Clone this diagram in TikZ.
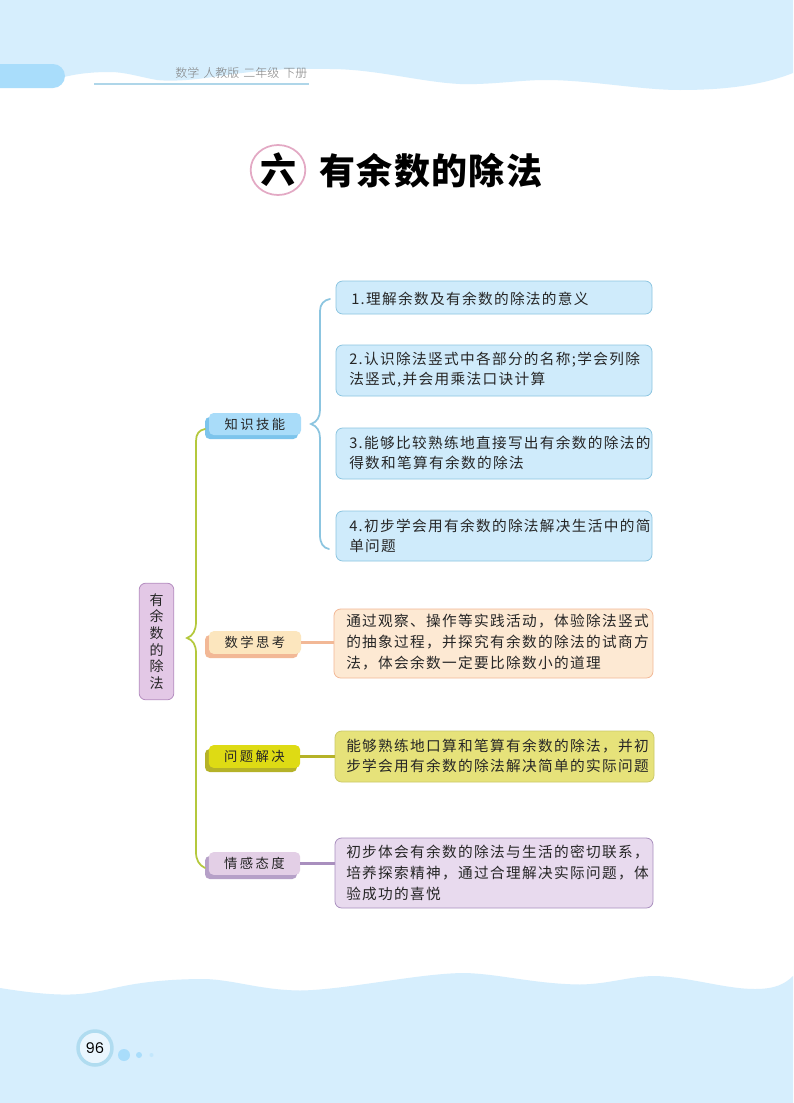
\documentclass[tikz,border=0pt]{standalone}
\usepackage{fontspec}
\usetikzlibrary{shapes.geometric}
\setmainfont{Poppins}
\newfontfamily\cjk[LetterSpace=9]{Noto Sans CJK SC}
\newfontfamily\cjklab[LetterSpace=18]{Noto Sans CJK SC}
\newfontfamily\cjktitle[LetterSpace=4]{Noto Sans CJK SC Black}
\newfontfamily\cjklight{Noto Sans CJK SC Light}
\newfontfamily\cjkplain{Noto Sans CJK SC}
\definecolor{wavec}{HTML}{D6EEFD}
\definecolor{tabc}{HTML}{A9DDFB}
\definecolor{bluefill}{HTML}{CFEBFB}
\definecolor{blueline}{HTML}{8CC5E0}
\definecolor{ringc}{HTML}{B0DCF0}
\definecolor{pinkc}{HTML}{E3A9C4}
\definecolor{labblue}{HTML}{A9DCF9}
\definecolor{labblueS}{HTML}{7CC4EC}
\definecolor{orfill}{HTML}{FDE9D3}
\definecolor{orline}{HTML}{F2B896}
\definecolor{labor}{HTML}{FCE6BE}
\definecolor{yefill}{HTML}{E6E27A}
\definecolor{yeline}{HTML}{B5B228}
\definecolor{labye}{HTML}{DEDB14}
\definecolor{pufill}{HTML}{E8DAEE}
\definecolor{puline}{HTML}{A98FBE}
\definecolor{labpu}{HTML}{E3CFE6}
\definecolor{rootfill}{HTML}{E3C8E6}
\definecolor{rootline}{HTML}{B58EC0}
\definecolor{greenline}{HTML}{B4C83C}
\tikzset{
  x=0.75pt,y=-0.75pt,
  textbox/.style={rounded corners=5pt,draw=#1,line width=0.6pt},
  bodytxt/.style={font=\cjk\fontsize{11pt}{15pt}\selectfont,align=left,anchor=west,text=black!85,inner sep=0pt},
  bodytxtw/.style={font=\cjk\fontsize{11pt}{15.75pt}\selectfont,align=left,anchor=west,text=black!85,inner sep=0pt},
  labtxt/.style={font=\cjklab\fontsize{10pt}{12pt}\selectfont,text=black!85,inner sep=0pt},
  labfront/.style={rounded corners=3.5pt,fill=#1,draw=none},
  link/.style={line width=2.1pt,draw=#1},
  brace/.style={line width=1.3pt,draw=#1,line cap=round},
}
\begin{document}
\begin{tikzpicture}
\useasboundingbox (0,0) rectangle (793,1103);
\fill[white] (0,0) rectangle (793,1103);
% top wave
\fill[wavec] (0,0) -- (793,0) -- (793,73) .. controls (765,84) and (730,90) .. (680,90)
  .. controls (640,90) and (590,80) .. (545,80)
  .. controls (520,80) and (490,85) .. (460,84)
  .. controls (420,82) and (375,69) .. (330,69)
  .. controls (290,68) and (260,70) .. (220,76)
  .. controls (200,79) and (175,82) .. (157,80)
  .. controls (140,77) and (125,72) .. (110,72)
  .. controls (90,72) and (75,74) .. (60,78) -- (0,78) -- cycle;
\fill[tabc,rounded corners=9pt] (-20,64) rectangle (65,88);
\coordinate (rulea) at (94,84);
\coordinate (ruleb) at (309,84);
\draw[line width=1.4pt,draw=blueline!70] (rulea) -- (ruleb);
\node[inner sep=0pt,anchor=west,text=black!50,font=\cjklight\fontsize{9pt}{10pt}\selectfont] (hdr) at (175,73) {数学\hspace{3pt}人教版\hspace{3pt}二年级\hspace{3pt}下册};
% title
\node[ellipse,draw=pinkc,line width=1.3pt,minimum width=41pt,minimum height=37.5pt,inner sep=0pt,font=\cjktitle\fontsize{27pt}{28pt}\selectfont] (six) at (278,170) {六};
\node[anchor=west,inner sep=0pt,font=\cjktitle\fontsize{27pt}{28pt}\selectfont] (title) at (319,171) {有余数的除法};
% root
\node[textbox=rootline,fill=rootfill,minimum width=26pt,minimum height=87.5pt,inner sep=0pt,align=center,font=\cjkplain\fontsize{10.5pt}{12.5pt}\selectfont,text=black!85] (root) at (156.5,641.5) {有\\余\\数\\的\\除\\法};
% labels
\fill[labblueS,rounded corners=3.5pt] (205,417) rectangle (298,439);
\node[labfront=labblue,minimum width=69pt,minimum height=16.5pt,inner sep=0pt] (l1) at (255,424) {};
\node[labtxt] at (l1) {知识技能};
\fill[orline,rounded corners=3.5pt] (205,635) rectangle (298,658);
\node[labfront=labor,minimum width=69pt,minimum height=17pt,inner sep=0pt] (l2) at (255,642.5) {};
\node[labtxt] at (l2) {数学思考};
\fill[yeline,rounded corners=3.5pt] (205,749) rectangle (297,772);
\node[labfront=labye,minimum width=68.5pt,minimum height=17pt,inner sep=0pt] (l3) at (254.5,756.5) {};
\node[labtxt] at (l3) {问题解决};
\fill[puline!85,rounded corners=3.5pt] (205,856) rectangle (297,879);
\node[labfront=labpu,minimum width=68.5pt,minimum height=17pt,inner sep=0pt] (l4) at (254.5,863.5) {};
\node[labtxt] at (l4) {情感态度};
% boxes
\node[textbox=blueline,fill=bluefill,minimum width=237pt,minimum height=24.75pt,inner sep=0pt] (b1) at (494,297.5) {};
\node[bodytxt] at (351,299) {1.理解余数及有余数的除法的意义};
\node[textbox=blueline,fill=bluefill,minimum width=237pt,minimum height=38.25pt,inner sep=0pt] (b2) at (494,370.5) {};
\node[bodytxt] at (349,370) {2.认识除法竖式中各部分的名称;学会列除\\法竖式,并会用乘法口诀计算};
\node[textbox=blueline,fill=bluefill,minimum width=237pt,minimum height=38.25pt,inner sep=0pt] (b3) at (494,453.5) {};
\node[bodytxt] at (349,453) {3.能够比较熟练地直接写出有余数的除法的\\得数和笔算有余数的除法};
\node[textbox=blueline,fill=bluefill,minimum width=237pt,minimum height=37.5pt,inner sep=0pt] (b4) at (494,536) {};
\node[bodytxt] at (349,536) {4.初步学会用有余数的除法解决生活中的简\\单问题};
\node[textbox=orline,fill=orfill,minimum width=239.25pt,minimum height=51.75pt,inner sep=0pt] (b5) at (493.5,643.5) {};
\node[bodytxtw] at (346,642) {通过观察、操作等实践活动，体验除法竖式\\的抽象过程，并探究有余数的除法的试商方\\法，体会余数一定要比除数小的道理};
\node[textbox=yeline!70,fill=yefill,minimum width=239.25pt,minimum height=38.25pt,inner sep=0pt] (b6) at (494.5,756.5) {};
\node[bodytxt] at (346,756) {能够熟练地口算和笔算有余数的除法，并初\\步学会用有余数的除法解决简单的实际问题};
\node[textbox=puline,fill=pufill,minimum width=238.5pt,minimum height=52.5pt,inner sep=0pt] (b7) at (494,873) {};
\node[bodytxtw] at (346,873) {初步体会有余数的除法与生活的密切联系，\\培养探索精神，通过合理解决实际问题，体\\验成功的喜悦};
% connectors
\draw[link=orline] (l2.east) -- (b5.west |- l2.east);
\draw[link=yeline] (l3.east) -- (b6.west |- l3.east);
\draw[link=puline] (l4.east) -- (b7.west |- l4.east);
% brace coordinates
\coordinate (gt) at (205,429);
\coordinate (gb) at (205,868);
\coordinate (gm) at (187,638);
\coordinate (bt) at (330,299);
\coordinate (bb) at (329,549);
\coordinate (bm) at (311,424);
\draw[brace=greenline] (gt) .. controls (199,430) and (196,434) .. (196,441) -- (196,622)
  .. controls (196,630) and (193,636) .. (gm) .. controls (193,640) and (196,645) .. (196,653)
  -- (196,852) .. controls (196,860) and (199,865) .. (gb);
\draw[brace=blueline] (bt) .. controls (324,300) and (320,304) .. (320,311) -- (320,410)
  .. controls (320,417) and (317,422) .. (bm) .. controls (317,426) and (320,431) .. (320,438)
  -- (320,535) .. controls (320,543) and (323,548) .. (bb);
% bottom wave
\fill[wavec] (0,988) .. controls (25,992) and (50,995) .. (70,994.500)
  .. controls (95,994) and (110,988) .. (135,984)
  .. controls (160,980) and (185,979) .. (205,979)
  .. controls (235,980) and (260,990) .. (300,990.500)
  .. controls (345,990) and (420,973) .. (465,973)
  .. controls (500,974) and (535,984) .. (580,984.500)
  .. controls (610,984) and (630,976) .. (655,976)
  .. controls (690,977) and (725,989) .. (755,989)
  .. controls (775,989) and (785,984) .. (793,976)
  -- (793,1103) -- (0,1103) -- cycle;
% page number
\node[circle,draw=ringc,line width=2.6pt,fill=wavec!50,minimum size=25.500pt,inner sep=0pt,font=\fontsize{11pt}{12pt}\selectfont] (pg) at (95,1048) {96};
\fill[tabc] (124,1055) circle[radius=6];
\fill[tabc] (139,1055) circle[radius=3];
\fill[tabc!70] (151.500,1055) circle[radius=2];
\end{tikzpicture}
\end{document}
